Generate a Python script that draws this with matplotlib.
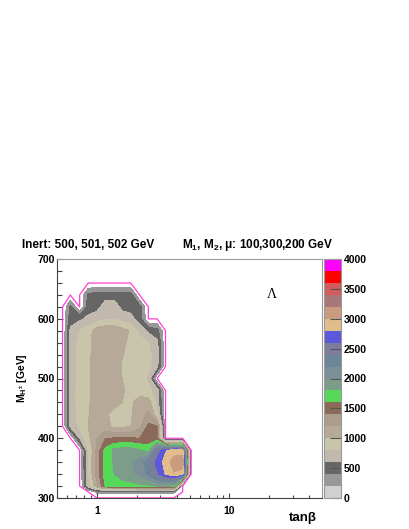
import numpy as np
import matplotlib
matplotlib.use('Agg')
import matplotlib.pyplot as plt
from matplotlib.colors import ListedColormap, BoundaryNorm
from matplotlib.cm import ScalarMappable
from matplotlib.ticker import MultipleLocator, LogLocator, NullFormatter

plt.rcParams['font.family'] = ['Liberation Sans', 'DejaVu Sans']
plt.rcParams['font.weight'] = 'bold'
plt.rcParams['mathtext.fontset'] = 'custom'
plt.rcParams['mathtext.rm'] = 'Liberation Sans:bold'
plt.rcParams['mathtext.it'] = 'Liberation Sans:bold'
plt.rcParams['mathtext.bf'] = 'Liberation Sans:bold'

# scan grid
tanb = [0.55, 0.63, 0.74, 0.86, 1.0, 1.15, 1.35, 1.55, 1.8, 2.1, 2.45, 2.85, 3.3, 3.8, 4.45, 5.15, 6.0]
mh = [300, 310, 320, 340, 360, 380, 400, 420, 440, 460, 480, 500, 520, 540, 560, 580, 600, 620, 640, 660, 680]

lam = [
    [0, 0, 0, 0, 0, 0, 0, 0, 0, 0, 0, 0, 0, 0, 0, 0, 0],                                          # 300
    [0, 0, 0, 0, 250, 250, 250, 250, 250, 250, 250, 250, 250, 250, 0, 0, 0],                      # 310
    [0, 0, 0, 700, 1150, 1600, 1680, 1720, 1720, 1750, 1760, 1800, 1820, 1780, 0, 0, 0],          # 320
    [0, 0, 0, 800, 1280, 1680, 1800, 1880, 1950, 2050, 2250, 2550, 2820, 2980, 2850, 0, 0],       # 340
    [0, 0, 0, 820, 1300, 1700, 1820, 1900, 1980, 2100, 2350, 2680, 2880, 3100, 3180, 0, 0],       # 360
    [0, 0, 0, 800, 1250, 1650, 1850, 1900, 1900, 1820, 1720, 2450, 2780, 2900, 2880, 0, 0],       # 380
    [0, 0, 600, 950, 1200, 1380, 1420, 1420, 1420, 1400, 1480, 1450, 0, 0, 0, 0, 0],             # 400
    [0, 650, 850, 1000, 1170, 1080, 950, 950, 1000, 1150, 1450, 1400, 0, 0, 0, 0, 0],            # 420
    [0, 700, 860, 980, 1160, 1050, 920, 920, 980, 1100, 1250, 850, 0, 0, 0, 0, 0],               # 440
    [0, 700, 870, 960, 1160, 1150, 1080, 1000, 980, 1050, 1100, 720, 0, 0, 0, 0, 0],             # 460
    [0, 700, 870, 950, 1160, 1170, 1150, 1030, 930, 950, 850, 700, 0, 0, 0, 0, 0],               # 480
    [0, 700, 860, 940, 1160, 1170, 1130, 1000, 900, 900, 760, 0, 0, 0, 0, 0, 0],                 # 500
    [0, 700, 860, 930, 1160, 1170, 1130, 980, 890, 900, 850, 650, 0, 0, 0, 0, 0],                # 520
    [0, 700, 860, 930, 1160, 1170, 1150, 1020, 900, 880, 850, 700, 0, 0, 0, 0, 0],               # 540
    [0, 680, 850, 920, 1160, 1170, 1160, 1060, 920, 880, 800, 650, 0, 0, 0, 0, 0],               # 560
    [0, 650, 800, 900, 1120, 1160, 1150, 1080, 980, 750, 550, 480, 0, 0, 0, 0, 0],               # 580
    [0, 500, 560, 650, 700, 770, 790, 720, 670, 500, 0, 0, 0, 0, 0, 0, 0],                       # 600
    [0, 450, 0, 500, 540, 680, 700, 540, 520, 480, 0, 0, 0, 0, 0, 0, 0],                         # 620
    [0, 0, 0, 450, 500, 520, 520, 500, 480, 0, 0, 0, 0, 0, 0, 0, 0],                             # 640
    [0, 0, 0, 0, 0, 0, 0, 0, 0, 0, 0, 0, 0, 0, 0, 0, 0],                                          # 660
    [0, 0, 0, 0, 0, 0, 0, 0, 0, 0, 0, 0, 0, 0, 0, 0, 0],                                          # 680
]

levels = np.arange(0, 4001, 200)
palette = ['#d0d0d0', '#989898', '#666666', '#c2b9ae', '#c8c5ab', '#b6a997', '#ab9c8b',
           '#8c6a5a', '#58d858', '#7d9d8b', '#7c8e98', '#6d8599', '#7e7c9d', '#5c58dc',
           '#e1bd8c', '#c99c80', '#a87878', '#d25c5c', '#ff0000', '#ff00ff']

W, H = 409, 529
fig = plt.figure(figsize=(W / 100, H / 100), dpi=100)
ax = fig.add_axes([57 / W, 1 - 498 / H, (322 - 57) / W, (498 - 259) / H])

z = np.array(lam, dtype=float)
# the lowest band is left blank inside the frame
ax.contourf(tanb, mh, z, levels=levels[1:], colors=palette[1:])
ax.contour(tanb, mh, z, levels=[5], colors='#ff40d8', linewidths=0.9)

ax.set_xscale('log')
ax.set_xlim(0.5, 50)
ax.set_ylim(300, 700)
ax.set_xticks([1, 10])
ax.set_xticklabels(['1', '10'])
ax.xaxis.set_minor_locator(LogLocator(subs=np.arange(2, 10)))
ax.xaxis.set_minor_formatter(NullFormatter())
ax.yaxis.set_major_locator(MultipleLocator(100))
ax.yaxis.set_minor_locator(MultipleLocator(20))
ax.tick_params(which='both', direction='in', top=False, right=False, color='#444', width=0.8)
ax.tick_params(axis='y', which='major', length=4.3, pad=1.5, labelsize=7.5)
ax.tick_params(axis='y', which='minor', length=3.5)
ax.tick_params(axis='x', which='major', length=3.6, pad=6, labelsize=7.5)
ax.tick_params(axis='x', which='minor', length=2.2)
for side in ['left', 'bottom']:
    ax.spines[side].set_color('#444')
    ax.spines[side].set_linewidth(0.8)
for side in ['top', 'right']:
    ax.spines[side].set_color('#999')
    ax.spines[side].set_linewidth(0.8)

ax.text(21, 641, 'Λ', family='Liberation Serif', fontweight='normal', fontsize=10,
        ha='center', va='center')

# colour scale
cax = fig.add_axes([324 / W, 1 - 498 / H, 17 / W, (498 - 259) / H])
cmap = ListedColormap(palette)
norm = BoundaryNorm(levels, cmap.N)
cb = fig.colorbar(ScalarMappable(norm=norm, cmap=cmap), cax=cax, ticks=np.arange(0, 4001, 500))
cb.outline.set_edgecolor('#999')
cb.outline.set_linewidth(0.8)
cax.tick_params(direction='in', length=8, width=0.8, color='#555', pad=2, labelsize=7.5)
cax.minorticks_off()

fig.text(22 / W, 1 - 248 / H, 'Inert: 500, 501, 502 GeV', fontsize=8.5, va='baseline')
fig.text(182 / W, 1 - 248 / H, 'M$_1$, M$_2$, μ: 100,300,200 GeV', fontsize=8.5, va='baseline')
fig.text(317 / W, 1 - 518 / H, 'tanβ', fontsize=9.5, ha='right', va='center')
fig.text(22 / W, 1 - 378 / H, 'M$_{H^{\\pm}}$ [GeV]', fontsize=7.5, rotation=90,
         ha='center', va='center')

fig.savefig('out.png', dpi=100)
